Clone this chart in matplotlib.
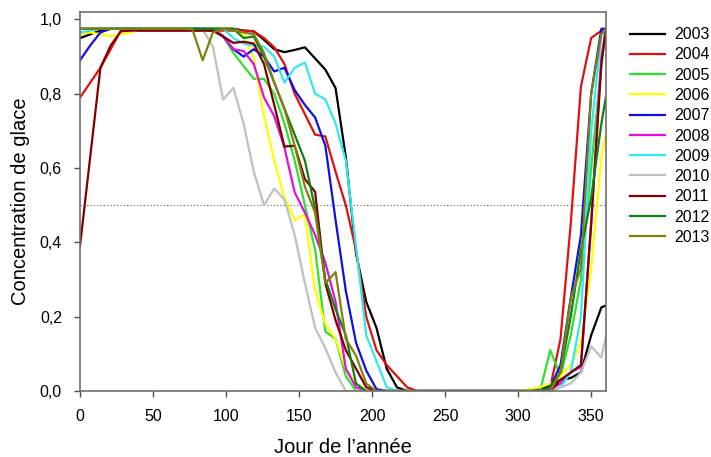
import numpy as np
import matplotlib
matplotlib.use('Agg')
from matplotlib import pyplot as plt
from matplotlib.ticker import FuncFormatter

plt.rcParams['font.family'] = ['Liberation Sans', 'DejaVu Sans']

# weekly sampling days (last point at day 360)
days = list(range(0, 358, 7)) + [360]

F = 0.975  # flat winter value
Z = [0.0] * 12  # summer, days 224-301

# each series: days 0-217 (32 values) + summer (12) + days 308-360 (9 values)
ice_2003 = [0.95, 0.96, 0.97] + [F] * 13 + [0.97, 0.968, 0.945, 0.92, 0.912, 0.918, 0.925, 0.895,
            0.865, 0.815, 0.63, 0.37, 0.24, 0.17, 0.06, 0.01] + Z + \
           [0.0, 0.005, 0.015, 0.03, 0.035, 0.05, 0.15, 0.225, 0.23]
ice_2004 = [0.79, 0.83, 0.87, 0.92, 0.97] + [0.97] * 12 + [0.968, 0.95, 0.925, 0.88, 0.8, 0.745, 0.69,
            0.685, 0.59, 0.5, 0.38, 0.2, 0.11, 0.07, 0.04] + [0.01] + [0.0] * 11 + \
           [0.0, 0.0, 0.01, 0.14, 0.45, 0.82, 0.95, 0.97, 0.975]
ice_2005 = [F] * 14 + [0.955, 0.91, 0.875, 0.84, 0.84, 0.8, 0.72, 0.62, 0.5, 0.38, 0.16, 0.14, 0.04,
            0.0, 0.0, 0.0, 0.0, 0.0] + Z + \
           [0.0, 0.0, 0.11, 0.04, 0.15, 0.3, 0.6, 0.88, 0.975]
ice_2006 = [0.96, 0.965, 0.96, 0.955, 0.96, 0.965] + [F] * 10 + [0.96, 0.895, 0.74, 0.62, 0.52, 0.46,
            0.475, 0.27, 0.18, 0.14, 0.06, 0.02, 0.0, 0.0, 0.0, 0.0] + Z + \
           [0.005, 0.01, 0.02, 0.04, 0.07, 0.13, 0.33, 0.63, 0.69]
ice_2007 = [0.89, 0.93, 0.965] + [F] * 10 + [0.97, 0.955, 0.92, 0.9, 0.92, 0.9, 0.86, 0.87, 0.81, 0.77,
            0.736, 0.66, 0.46, 0.27, 0.13, 0.055, 0.005, 0.0, 0.0] + Z + \
           [0.0, 0.0, 0.01, 0.07, 0.25, 0.42, 0.8, 0.975, 0.975]
ice_2008 = [F] * 14 + [0.955, 0.92, 0.915, 0.88, 0.79, 0.74, 0.655, 0.535, 0.48, 0.42, 0.345, 0.24,
            0.06, 0.01, 0.0, 0.0, 0.0, 0.0] + Z + \
           [0.0, 0.0, 0.005, 0.02, 0.05, 0.065, 0.45, 0.9, 0.97]
ice_2009 = [0.965, 0.97] + [F] * 13 + [0.95, 0.935, 0.93, 0.927, 0.9, 0.83, 0.87, 0.884, 0.8, 0.785,
            0.72, 0.62, 0.39, 0.15, 0.08, 0.01, 0.0] + Z + \
           [0.0, 0.0, 0.0, 0.01, 0.05, 0.2, 0.7, 0.96, 0.97]
ice_2010 = [F] * 12 + [0.973, 0.927, 0.784, 0.816, 0.72, 0.59, 0.5, 0.545, 0.515, 0.42, 0.29, 0.17,
            0.115, 0.05, 0.0, 0.0, 0.0, 0.0, 0.0, 0.0] + Z + \
           [0.0, 0.0, 0.0, 0.01, 0.02, 0.05, 0.12, 0.09, 0.145]
ice_2011 = [0.39, 0.63, 0.87, 0.93, 0.968] + [0.97] * 9 + [0.954, 0.937, 0.94, 0.935, 0.88, 0.77, 0.658,
            0.66, 0.57, 0.536, 0.29, 0.19, 0.11, 0.06, 0.01, 0.0, 0.0, 0.0] + Z + \
           [0.0, 0.0, 0.0, 0.03, 0.05, 0.07, 0.45, 0.88, 0.97]
ice_2012 = [F] * 16 + [0.95, 0.954, 0.9, 0.83, 0.76, 0.69, 0.62, 0.49, 0.3, 0.22, 0.15, 0.02, 0.0,
            0.0, 0.0, 0.0] + Z + \
           [0.0, 0.0, 0.01, 0.05, 0.2, 0.38, 0.52, 0.72, 0.79]
ice_2013 = [F] * 11 + [0.973, 0.89, 0.965, 0.975, 0.97, 0.965, 0.96, 0.91, 0.83, 0.76, 0.66, 0.55,
            0.48, 0.29, 0.32, 0.14, 0.095, 0.02, 0.0, 0.0, 0.0] + Z + \
           [0.0, 0.0, 0.0, 0.05, 0.25, 0.33, 0.8, 0.96, 0.975]

years = ['2003', '2004', '2005', '2006', '2007', '2008', '2009', '2010', '2011', '2012', '2013']
series = [ice_2003, ice_2004, ice_2005, ice_2006, ice_2007, ice_2008,
          ice_2009, ice_2010, ice_2011, ice_2012, ice_2013]
colors = ['#000000', '#e01010', '#30e030', '#ffff00', '#1010e0', '#e010e0',
          '#30e8f0', '#c0c0c0', '#800000', '#108010', '#808010']

fig = plt.figure(figsize=(7.11, 4.57), dpi=100)
ax = fig.add_axes([0.1125, 0.1444, 0.7395, 0.8293])

ax.axhline(0.5, color='#606060', linestyle=(0, (1, 2)), linewidth=0.8, zorder=1)

for yr, vals, c in zip(years, series, colors):
    ax.plot(days, vals, color=c, linewidth=1.6, label=yr, zorder=2)

ax.set_xlim(0, 360)
ax.set_ylim(0, 1.02)
ax.set_xticks([0, 50, 100, 150, 200, 250, 300, 350])
ax.set_yticks([0.0, 0.2, 0.4, 0.6, 0.8, 1.0])
ax.yaxis.set_major_formatter(FuncFormatter(lambda v, p: '{:.1f}'.format(v).replace('.', ',')))

for s in ax.spines.values():
    s.set_color('#707070')
    s.set_linewidth(1.2)
ax.tick_params(direction='out', length=4, width=1, color='#505050', labelsize=11.5, pad=9)

ax.set_xlabel('Jour de l\u2019ann\u00e9e', fontsize=14.5, labelpad=10)
ax.set_ylabel('Concentration de glace', fontsize=14.5, labelpad=7)

ax.legend(loc='upper left', bbox_to_anchor=(1.0456, 0.96), frameon=False, fontsize=11.5,
          handlelength=2.2, handletextpad=0.6, labelspacing=0.33, borderaxespad=0, borderpad=0)

fig.savefig('out.png', dpi=100)
